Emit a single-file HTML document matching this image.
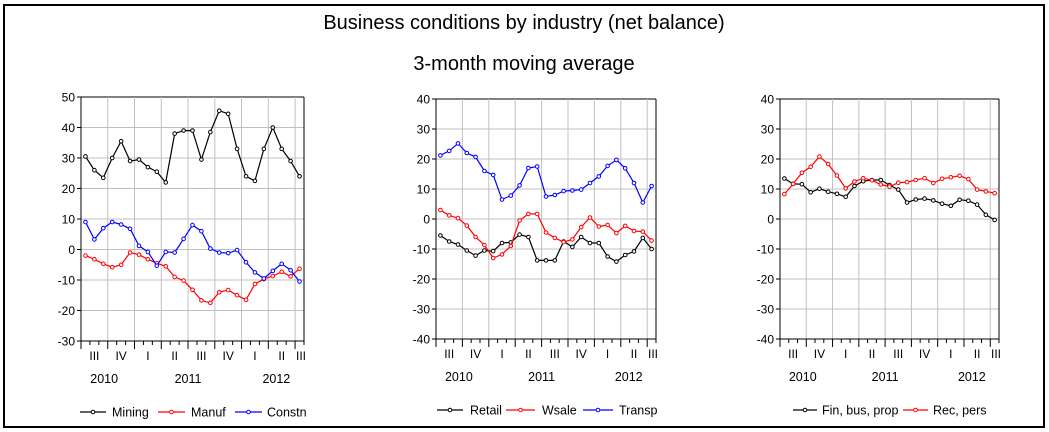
<!DOCTYPE html>
<html><head><meta charset="utf-8">
<style>
body{margin:0;background:#fff;}
svg{display:block;font-family:"Liberation Sans",Arial,sans-serif;}
</style></head>
<body>
<svg id="chart" width="1049" height="432" xmlns="http://www.w3.org/2000/svg">
<rect x="4" y="5" width="1040" height="422" fill="#fff" stroke="#000" stroke-width="2"/>
<text x="524" y="29" font-size="20" text-anchor="middle">Business conditions by industry (net balance)</text>
<text x="524" y="70" font-size="20" text-anchor="middle">3-month moving average</text>
</svg>
<script>
const months = 25;
const quarterLabels = ["III","IV","I","II","III","IV","I","II","III"];
const yearLabels = ["2010","2011","2012"];
const mining = [30.5,26,23.5,30,35.5,29,29.5,27,25.5,22,38,39,39,29.5,38.5,45.5,44.5,33,24,22.5,33,40,33,29,24];
const manuf = [-2,-3.2,-4.7,-5.8,-5,-1,-1.7,-3.2,-4.5,-5.5,-9,-10.2,-13.2,-16.7,-17.5,-14,-13.3,-15,-16.5,-11.3,-9.7,-8.7,-7.3,-8.8,-6.3];
const constn = [9,3.3,7,9,8.2,6.8,1.2,-0.8,-5.3,-0.8,-1,3.5,8,6,0.3,-1,-1.2,-0.2,-4.2,-7.5,-9.5,-7,-4.7,-6.8,-10.5];
const retail = [-5.5,-7.5,-8.5,-10.5,-12.2,-10.5,-10.7,-8,-7.8,-5.2,-6,-13.8,-13.8,-13.8,-7.5,-9.3,-6,-8,-8,-12.5,-14.2,-12,-10.8,-6.3,-10];
const wsale = [3,1.2,0.3,-2.2,-6,-8.7,-13,-11.8,-9,-0.5,1.7,1.7,-4.5,-6.3,-7.7,-6.8,-2.7,0.5,-2.5,-2,-4.7,-2.3,-4,-4.2,-7.2];
const transp = [21.2,22.7,25.2,22,20.7,16,14.7,6.5,7.8,11.2,17,17.5,7.5,8,9.3,9.5,9.8,12,14.2,17.7,19.7,16.9,12,5.5,11];
const finbus = [13.5,11.7,11.6,8.9,10.1,9.1,8.4,7.4,11,12.6,13,13,11.3,9.8,5.5,6.5,6.8,6.2,5.1,4.4,6.4,6.1,4.8,1.4,-0.3];
const recpers = [8.3,11.7,15.4,17.4,20.8,18.3,14.5,10.2,12.5,13.6,12.9,11.5,10.8,12.1,12.3,13,13.6,12,13.4,13.9,14.4,13.3,9.8,9.2,8.6];
const ticks1 = [50,40,30,20,10,0,-10,-20,-30];
const ticks2 = [40,30,20,10,0,-10,-20,-30,-40];

const NS="http://www.w3.org/2000/svg";
const svg=document.getElementById('chart');
function mk(tag,attrs,parent){const e=document.createElementNS(NS,tag);for(const k in attrs)e.setAttribute(k,attrs[k]);(parent||svg).appendChild(e);return e;}

function panel(id,L,R,T,B,ticks,series,legend){
  const g=mk('g',{});
  
  
  const ymax=ticks[0], ymin=ticks[ticks.length-1];
  const step=(R-L)/months;
  const x=i=>L+step*(i+0.5);
  const y=v=>T+(ymax-v)/(ymax-ymin)*(B-T);
  ticks.forEach(t=>{
    const yy=y(t);
    const gl=mk('line',{x1:L,x2:R,y1:yy,y2:yy,stroke:t===ymax?'#000':'#c0c0c0','stroke-width':1},g);
    
    
    mk('line',{x1:L-4,x2:L,y1:yy,y2:yy,stroke:'#000'},g);
    const tx=mk('text',{x:L-6,y:yy+4.5,'font-size':12,'text-anchor':'end',fill:'#000'},g);
    tx.textContent=t;
    
    
  });
  for(let m=3;m<months;m+=3){
    const xx=L+step*m;
    const vl=mk('line',{x1:xx,x2:xx,y1:T,y2:B,stroke:'#c0c0c0'},g);
    
    
  }
  mk('line',{x1:R,x2:R,y1:T,y2:B,stroke:'#000'},g);
  mk('line',{x1:L,x2:L,y1:T,y2:B,stroke:'#000'},g);
  mk('line',{x1:L,x2:R,y1:B,y2:B,stroke:'#000'},g);
  for(let m=0;m<=months;m++){
    const xx=L+step*m;
    mk('line',{x1:xx,x2:xx,y1:B,y2:B+(m%3===0?8:4),stroke:'#000'},g);
  }
  quarterLabels.forEach((q,i)=>{
    const c=Math.min(L+step*(3*i+1.5),R-3);
    const tx=mk('text',{x:c,y:B+19,'font-size':12,'text-anchor':'middle'},g);
    tx.textContent=q;
    
    
  });
  const yearPos=[2.6,12,21.9];
  yearLabels.forEach((yr,i)=>{
    const c=L+step*yearPos[i];
    const tx=mk('text',{x:c,y:B+42,'font-size':12.5,'text-anchor':'middle'},g);
    tx.textContent=yr;
    
    
  });
  series.forEach(s=>{
    const pts=s.data.map((v,i)=>x(i).toFixed(1)+','+y(v).toFixed(1)).join(' ');
    const pl=mk('polyline',{points:pts,fill:'none',stroke:s.color,'stroke-width':1.2},g);
    
    
    s.data.forEach((v,i)=>{
      const c=mk('circle',{cx:x(i),cy:y(v),r:1.8,fill:'#fff',stroke:s.color,'stroke-width':1},g);
      
      
    });
  });
  legend.forEach(l=>{
    const ly=B+71;
    const lg=mk('g',{},g);
    
    
    mk('line',{x1:l.x1,x2:l.x2,y1:ly,y2:ly,stroke:l.color,'stroke-width':1.2},lg);
    mk('circle',{cx:(l.x1+l.x2)/2,cy:ly,r:1.8,fill:'#fff',stroke:l.color},lg);
    const tx=mk('text',{x:l.tx,y:ly+4.5,'font-size':12.5},lg);
    tx.textContent=l.label;
  });
}
panel('panel-mining-manuf-constn',81,304,97,341,ticks1,
 [{name:'mining',data:mining,color:'#000'},{name:'manuf',data:manuf,color:'#f00'},{name:'constn',data:constn,color:'#00f'}],
 [{x1:80,x2:106,tx:112,label:'Mining',color:'#000'},{x1:158,x2:185,tx:191,label:'Manuf',color:'#f00'},{x1:235,x2:262,tx:267,label:'Constn',color:'#00f'}]);
panel('panel-retail-wsale-transp',436,656,99,339,ticks2,
 [{name:'retail',data:retail,color:'#000'},{name:'wsale',data:wsale,color:'#f00'},{name:'transp',data:transp,color:'#00f'}],
 [{x1:437,x2:463,tx:470,label:'Retail',color:'#000'},{x1:506,x2:535,tx:542,label:'Wsale',color:'#f00'},{x1:583,x2:613,tx:619,label:'Transp',color:'#00f'}]);
panel('panel-finance-recreation',780,999,99,339,ticks2,
 [{name:'finbus',data:finbus,color:'#000'},{name:'recpers',data:recpers,color:'#f00'}],
 [{x1:793,x2:817,tx:822,label:'Fin, bus, prop',color:'#000'},{x1:903,x2:928,tx:933,label:'Rec, pers',color:'#f00'}]);
</script>
</body></html>
